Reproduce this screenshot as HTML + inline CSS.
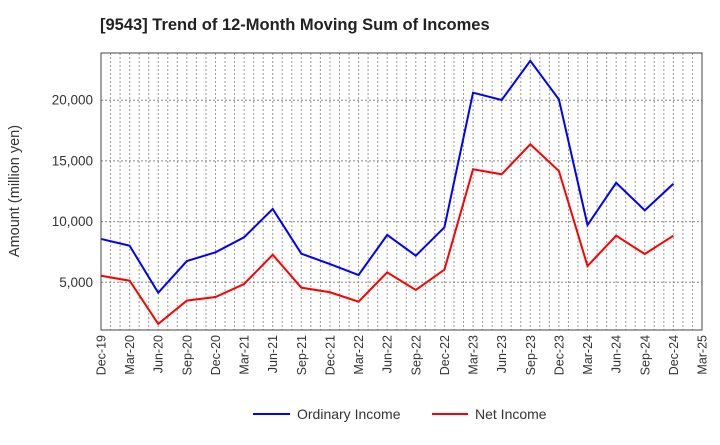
<!DOCTYPE html>
<html><head><meta charset="utf-8"><style>
body{margin:0;background:#fff;font-family:"Liberation Sans",Arial,sans-serif}
svg text{font-family:"Liberation Sans",Arial,sans-serif}
</style></head><body>
<svg id="chart" width="720" height="440" xmlns="http://www.w3.org/2000/svg">
<text x="100" y="30" font-size="16.5" font-weight="bold" fill="#222">[9543]  Trend of 12-Month Moving Sum of Incomes</text>
<text transform="translate(19,191) rotate(-90)" text-anchor="middle" font-size="14.5" fill="#333">Amount (million yen)</text>
<g id="grid"></g><g id="axes"></g><g id="series"></g>
<rect x="101" y="53" width="601" height="277" fill="none" stroke="#444" stroke-width="1"/>
<g>
<line x1="253" y1="414" x2="290" y2="414" stroke="#0000ff" stroke-width="2"/>
<text x="297" y="419" font-size="14" fill="#333">Ordinary Income</text>
<line x1="432" y1="414" x2="468" y2="414" stroke="#ff0000" stroke-width="2"/>
<text x="475" y="419" font-size="14" fill="#333">Net Income</text>
</g>
</svg>
<script>
const categories=["Dec-19","Mar-20","Jun-20","Sep-20","Dec-20","Mar-21","Jun-21","Sep-21","Dec-21","Mar-22","Jun-22","Sep-22","Dec-22","Mar-23","Jun-23","Sep-23","Dec-23","Mar-24","Jun-24","Sep-24","Dec-24","Mar-25"];
const ordinaryIncome=[8570,8015,4140,6750,7470,8710,11040,7360,6500,5600,8900,7190,9530,20620,20020,23250,20070,9720,13200,10930,13120];
const netIncome=[5540,5130,1570,3490,3790,4860,7270,4560,4180,3400,5820,4370,6040,14310,13900,16370,14170,6340,8840,7330,8840];
const yTicks=[5000,10000,15000,20000];
const yTickLabels=["5,000","10,000","15,000","20,000"];
const NS="http://www.w3.org/2000/svg";
const L=101,R=702,T=53,B=330,yMin=1070,yMax=23890;
const step=(R-L)/(categories.length-1);
const xs=i=>L+i*step;
const ys=v=>B-(v-yMin)/(yMax-yMin)*(B-T);
function mk(tag,attrs,parent){const e=document.createElementNS(NS,tag);for(const k in attrs)e.setAttribute(k,attrs[k]);parent.appendChild(e);return e;}
const grid=document.getElementById('grid'),axes=document.getElementById('axes'),series=document.getElementById('series');
for(let m=1;m<(categories.length-1)*3;m++){
  const x=L+m*step/3;
  const l=mk('line',{x1:x,y1:T,x2:x,y2:B,stroke:'#999','stroke-width':1,'stroke-dasharray':'2,2'},grid);
  
  
}
yTicks.forEach((v,i)=>{
  const y=ys(v);
  const l=mk('line',{x1:L,y1:y,x2:R,y2:y,stroke:'#888','stroke-width':1,'stroke-dasharray':'2,2'},grid);
  
  
  const t=mk('text',{x:L-8,y:y+4.5,'text-anchor':'end','font-size':13.5,fill:'#333'},axes);
  t.textContent=yTickLabels[i];
  
  
});
categories.forEach((c,i)=>{
  const x=xs(i);
  const t=mk('text',{transform:`translate(${x+4.5},${B+5}) rotate(-90)`,'text-anchor':'end','font-size':12.5,fill:'#333'},axes);
  t.textContent=c;
  
  
});
function line(data,color,name){
  const p=mk('polyline',{points:data.map((v,i)=>xs(i)+','+ys(v)).join(' '),fill:'none',stroke:color,'stroke-width':2,'stroke-linejoin':'miter'},series);
  
  
}
line(ordinaryIncome,'#0000ff','ordinary-income-line');
line(netIncome,'#ff0000','net-income-line');
</script>
</body></html>
